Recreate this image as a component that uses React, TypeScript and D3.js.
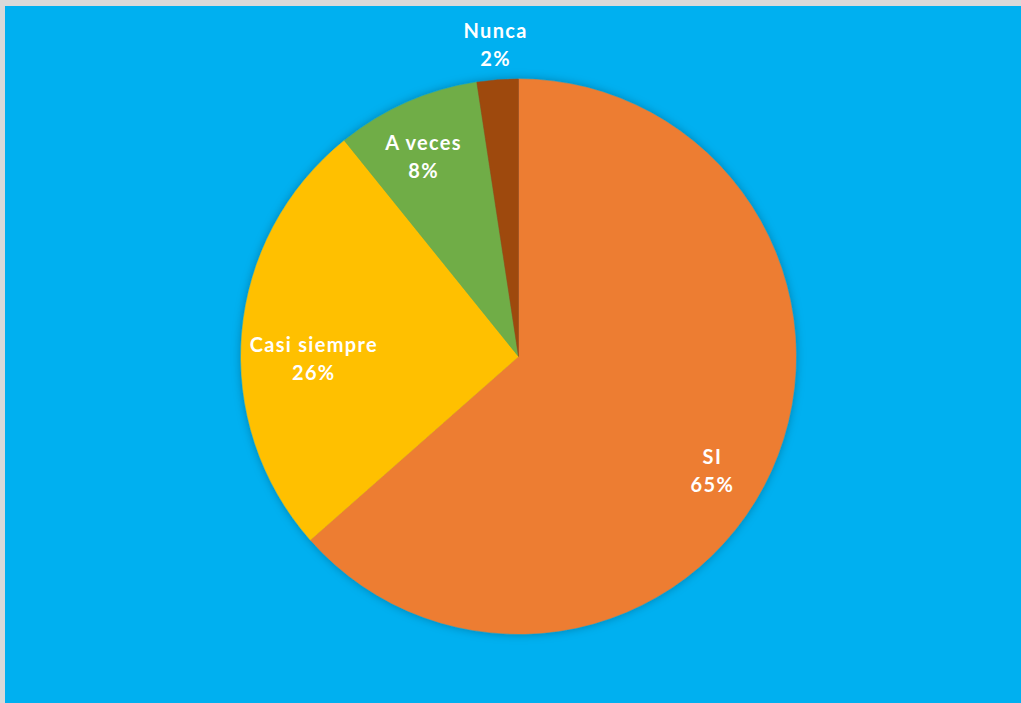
import React from "react";
import * as d3 from "d3";

const categories = ["SI", "Casi siempre", "A veces", "Nunca"];
const values = [63.5, 25.7, 8.4, 2.4];
const percentLabels = ["65%", "26%", "8%", "2%"];
const colors = ["#ED7D31", "#FFC000", "#70AD47", "#9E480E"];

// label placement (fraction through slice angle, radius fraction)
const labelLayout = [
  { t: 0.528, r: 0.81 },
  { t: 0.44, r: 0.74 },
  { t: 0.44, r: 0.797 },
  { t: 0.5, r: 1.126 },
];

const W = 1021;
const H = 703;
const cx = 518.5;
const cy = 356.5;
const R = 277.5;

export default function App() {
  const pie = d3.pie<number>().sort(null).value((d) => d)(values);
  const arc = d3.arc<d3.PieArcDatum<number>>().innerRadius(0).outerRadius(R);
  return (
    <svg
      width={W}
      height={H}
      style={{ position: "absolute", left: 0, top: 0 }}
      fontFamily="Lato, 'Open Sans', sans-serif"
    >
      <defs>
        <filter id="sh" x="-20%" y="-20%" width="140%" height="140%">
          <feDropShadow dx="0" dy="0" stdDeviation="5" floodColor="#000" floodOpacity="0.28" />
        </filter>
      </defs>
      <rect x={0} y={0} width={W} height={H} fill="#D9D9D9" />
      <rect x={5} y={6} width={W - 5} height={H - 6} fill="#00B0F0" />
      <g transform={`translate(${cx},${cy})`}>
        <g filter="url(#sh)">
          {pie.map((p, i) => (
            <path key={i} d={arc(p) || ""} fill={colors[i]} stroke={colors[i]} strokeWidth={0.5} />
          ))}
        </g>
        {pie.map((p, i) => {
          const L = labelLayout[i];
          const a = p.startAngle + (p.endAngle - p.startAngle) * L.t;
          const rr = R * L.r;
          const x = rr * Math.sin(a) + 0.6;
          const y = -rr * Math.cos(a);
          return (
            <text
              key={i}
              x={x}
              y={y}
              textAnchor="middle"
              fill="#FFFFFF"
              fontWeight="bold"
              fontSize={20}
              letterSpacing={1.3}
            >
              <tspan x={x} dy={-7}>{categories[i]}</tspan>
              <tspan x={x} dy={28}>{percentLabels[i]}</tspan>
            </text>
          );
        })}
      </g>
    </svg>
  );
}
